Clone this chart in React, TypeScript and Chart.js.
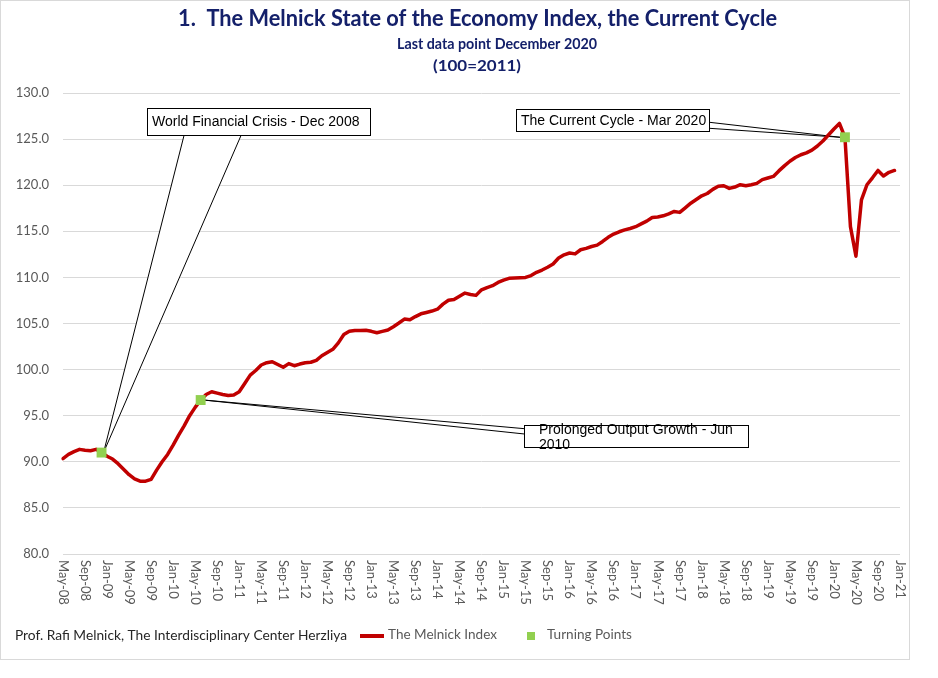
import React, { useEffect, useRef } from "react";
import { Chart, registerables } from "chart.js";

Chart.register(...registerables);

const MONTHS = ["Jan", "Feb", "Mar", "Apr", "May", "Jun", "Jul", "Aug", "Sep", "Oct", "Nov", "Dec"];

// Categories: monthly, May-08 .. Jan-21
const categories: string[] = [];
for (let y = 2008; y <= 2021; y++) {
  for (let m = 0; m < 12; m++) {
    if (y === 2008 && m < 4) continue;
    if (y === 2021 && m > 0) continue;
    categories.push(`${MONTHS[m]}-${String(y).slice(2)}`);
  }
}

const xTickLabels = [
  "May-08", "Sep-08", "Jan-09", "May-09", "Sep-09", "Jan-10", "May-10", "Sep-10",
  "Jan-11", "May-11", "Sep-11", "Jan-12", "May-12", "Sep-12", "Jan-13", "May-13",
  "Sep-13", "Jan-14", "May-14", "Sep-14", "Jan-15", "May-15", "Sep-15", "Jan-16",
  "May-16", "Sep-16", "Jan-17", "May-17", "Sep-17", "Jan-18", "May-18", "Sep-18",
  "Jan-19", "May-19", "Sep-19", "Jan-20", "May-20", "Sep-20", "Jan-21",
];

const yTicks = [80, 85, 90, 95, 100, 105, 110, 115, 120, 125, 130];

const idx2008 = [90.35, 90.8, 91.1, 91.35, 91.25, 91.2, 91.35, 91.0];
const idx2009 = [90.6, 90.3, 89.8, 89.2, 88.6, 88.15, 87.9, 87.9, 88.1, 89.1, 90.0, 90.8];
const idx2010 = [91.8, 92.9, 93.9, 95.0, 95.9, 96.7, 97.3, 97.6, 97.45, 97.3, 97.2, 97.25];
const idx2011 = [97.6, 98.5, 99.4, 99.9, 100.5, 100.75, 100.85, 100.55, 100.25, 100.65, 100.42, 100.6];
const idx2012 = [100.75, 100.8, 101.0, 101.5, 101.85, 102.2, 102.9, 103.8, 104.15, 104.25, 104.25, 104.27];
const idx2013 = [104.15, 104.0, 104.15, 104.3, 104.65, 105.05, 105.48, 105.4, 105.75, 106.05, 106.2, 106.35];
const idx2014 = [106.55, 107.1, 107.52, 107.6, 107.95, 108.3, 108.15, 108.05, 108.65, 108.9, 109.1, 109.45];
const idx2015 = [109.7, 109.9, 109.93, 109.97, 110.0, 110.2, 110.55, 110.8, 111.1, 111.45, 112.1, 112.45];
const idx2016 = [112.65, 112.55, 113.0, 113.15, 113.35, 113.5, 113.9, 114.35, 114.7, 114.95, 115.15, 115.3];
const idx2017 = [115.5, 115.8, 116.1, 116.5, 116.55, 116.68, 116.9, 117.15, 117.05, 117.55, 118.05, 118.45];
const idx2018 = [118.85, 119.1, 119.55, 119.88, 119.94, 119.65, 119.8, 120.05, 119.95, 120.05, 120.2, 120.6];
const idx2019 = [120.78, 120.95, 121.55, 122.1, 122.6, 123.0, 123.3, 123.5, 123.8, 124.25, 124.8, 125.45];
const idx2020 = [126.1, 126.7, 125.2, 115.5, 112.3, 118.4, 120.05, 120.8, 121.6, 121.0, 121.4, 121.6];

const melnickIndex: (number | null)[] = [
  ...idx2008, ...idx2009, ...idx2010, ...idx2011, ...idx2012, ...idx2013, ...idx2014,
  ...idx2015, ...idx2016, ...idx2017, ...idx2018, ...idx2019, ...idx2020, null,
];

const turningMonths = ["Dec-08", "Jun-10", "Mar-20"];
const turningValues = [91.0, 96.7, 125.2];
const turningLabels = [
  "World Financial Crisis - Dec 2008",
  "Prolonged Output Growth - Jun 2010",
  "The Current Cycle - Mar 2020",
];

const turningData: (number | null)[] = categories.map((c) => {
  const k = turningMonths.indexOf(c);
  return k >= 0 ? turningValues[k] : null;
});

const TITLE = "1.  The Melnick State of the Economy Index, the Current Cycle";
const SUBTITLE1 = "Last data point December 2020";
const SUBTITLE2 = "(100=2011)";
const SOURCE = "Prof. Rafi Melnick, The Interdisciplinary Center Herzliya";
const SERIES_NAMES = ["The Melnick Index", "Turning Points"];

const RED = "#C00000";
const GREEN = "#92D050";
const NAVY = "#14206A";
const GRAY = "#595959";
const FONT = "Lato, 'Open Sans', sans-serif";
const ANNOT_FONT = "14px 'Liberation Sans', Arial, sans-serif";

function fitText(
  ctx: CanvasRenderingContext2D, text: string, x: number, y: number,
  font: string, color: string, width: number, align: "left" | "center"
) {
  ctx.save();
  ctx.font = font;
  ctx.fillStyle = color;
  ctx.textBaseline = "middle";
  ctx.textAlign = "left";
  const w = ctx.measureText(text).width || 1;
  const s = width / w;
  const left = align === "center" ? x - width / 2 : x;
  ctx.translate(left, y);
  ctx.scale(s, 1);
  ctx.fillText(text, 0, 0);
  ctx.restore();
}

function pointPx(chart: any, k: number) {
  const i = categories.indexOf(turningMonths[k]);
  return {
    x: chart.scales.x.getPixelForValue(i),
    y: chart.scales.y.getPixelForValue(turningValues[k]),
  };
}

const overlayPlugin = {
  id: "melnickOverlay",
  beforeDatasetsDraw(chart: any) {
    const ctx: CanvasRenderingContext2D = chart.ctx;
    ctx.save();
    ctx.lineWidth = 1;
    ctx.strokeStyle = "#000";

    // Callout 1: World Financial Crisis
    {
      const p = pointPx(chart, 0);
      const ax = p.x + 2, ay = p.y;
      ctx.fillStyle = "#fff";
      ctx.beginPath();
      ctx.moveTo(184, 135.5); ctx.lineTo(ax, ay); ctx.lineTo(241, 135.5); ctx.closePath();
      ctx.fill();
      ctx.beginPath();
      ctx.moveTo(184, 135.5); ctx.lineTo(ax, ay); ctx.lineTo(241, 135.5);
      ctx.stroke();
      ctx.fillRect(147.5, 108.5, 223, 27);
      ctx.strokeRect(147.5, 108.5, 223, 27);
      ctx.fillStyle = "#000";
      ctx.font = ANNOT_FONT;
      ctx.textBaseline = "middle";
      ctx.textAlign = "left";
      ctx.fillText(turningLabels[0], 152, 122.5);
    }

    // Callout 2: Prolonged Output Growth
    {
      const p = pointPx(chart, 1);
      const ax = p.x + 3, ay = p.y;
      ctx.fillStyle = "#fff";
      ctx.beginPath();
      ctx.moveTo(524.5, 428.7); ctx.lineTo(ax, ay); ctx.lineTo(524.5, 434); ctx.closePath();
      ctx.fill();
      ctx.beginPath();
      ctx.moveTo(524.5, 428.7); ctx.lineTo(ax, ay); ctx.lineTo(524.5, 434);
      ctx.stroke();
      ctx.fillStyle = "#fff";
      ctx.fillRect(524.5, 425.5, 224, 22);
      ctx.strokeRect(524.5, 425.5, 224, 22);
      ctx.fillStyle = "#000";
      ctx.font = ANNOT_FONT;
      ctx.textBaseline = "alphabetic";
      ctx.textAlign = "left";
      const words = turningLabels[1].split(" ");
      ctx.fillText(words.slice(0, 5).join(" "), 539, 433.5);
      ctx.fillText(words.slice(5).join(" "), 539, 448.5);
    }

    // Callout 3: Current Cycle
    {
      const p = pointPx(chart, 2);
      const ax = p.x - 5, ay = p.y;
      ctx.fillStyle = "#fff";
      ctx.beginPath();
      ctx.moveTo(709.5, 122.3); ctx.lineTo(ax, ay); ctx.lineTo(709.5, 128.3); ctx.closePath();
      ctx.fill();
      ctx.beginPath();
      ctx.moveTo(709.5, 122.3); ctx.lineTo(ax, ay); ctx.lineTo(709.5, 128.3);
      ctx.stroke();
      ctx.fillStyle = "#fff";
      ctx.fillRect(516.5, 109.5, 193, 22);
      ctx.strokeRect(516.5, 109.5, 193, 22);
      ctx.fillStyle = "#000";
      ctx.font = ANNOT_FONT;
      ctx.textBaseline = "middle";
      ctx.textAlign = "left";
      ctx.fillText(turningLabels[2], 521, 121);
    }
    ctx.restore();
  },
  afterDraw(chart: any) {
    const ctx: CanvasRenderingContext2D = chart.ctx;
    const xs = chart.scales.x;

    // Outer border
    ctx.save();
    ctx.strokeStyle = "#d9d9d9";
    ctx.lineWidth = 1;
    ctx.strokeRect(0.5, 0.5, 909, 659);
    ctx.restore();

    // Titles
    fitText(ctx, TITLE, 477.5, 18.5, `bold 22px ${FONT}`, NAVY, 599, "center");
    fitText(ctx, SUBTITLE1, 497, 44, `bold 16px ${FONT}`, NAVY, 200, "center");
    fitText(ctx, SUBTITLE2, 477, 66, `bold 16px ${FONT}`, NAVY, 88, "center");

    // X tick labels, rotated to read downward
    ctx.save();
    ctx.font = `13px ${FONT}`;
    ctx.fillStyle = GRAY;
    ctx.textAlign = "left";
    ctx.textBaseline = "middle";
    categories.forEach((c, i) => {
      if (!xTickLabels.includes(c)) return;
      const x = xs.getPixelForValue(i);
      ctx.save();
      ctx.translate(x, 560);
      ctx.rotate(Math.PI / 2);
      ctx.fillText(c, 0, 0);
      ctx.restore();
    });
    ctx.restore();

    // Footer source + legend
    fitText(ctx, SOURCE, 15, 636, `13px ${FONT}`, "#262626", 332, "left");
    ctx.save();
    ctx.strokeStyle = RED;
    ctx.lineWidth = 4;
    ctx.beginPath();
    ctx.moveTo(360, 636);
    ctx.lineTo(384, 636);
    ctx.stroke();
    ctx.fillStyle = GREEN;
    ctx.fillRect(527, 632, 8, 8);
    ctx.restore();
    fitText(ctx, SERIES_NAMES[0], 388, 635, `13px ${FONT}`, GRAY, 109, "left");
    fitText(ctx, SERIES_NAMES[1], 547, 635, `13px ${FONT}`, GRAY, 85, "left");
  },
};

export default function App() {
  const canvasRef = useRef<HTMLCanvasElement | null>(null);

  useEffect(() => {
    if (!canvasRef.current) return;
    const chart = new Chart(canvasRef.current, {
      type: "line",
      data: {
        labels: categories,
        datasets: [
          {
            label: SERIES_NAMES[1],
            data: turningData,
            showLine: false,
            pointStyle: "rect",
            pointRadius: 7,
            pointHoverRadius: 7,
            pointBackgroundColor: GREEN,
            pointBorderWidth: 0,
            backgroundColor: GREEN,
            borderColor: GREEN,
          },
          {
            label: SERIES_NAMES[0],
            data: melnickIndex,
            borderColor: RED,
            backgroundColor: RED,
            borderWidth: 3.5,
            pointRadius: 0,
            tension: 0,
            borderJoinStyle: "round",
            borderCapStyle: "round",
            spanGaps: false,
          },
        ],
      },
      options: {
        responsive: false,
        animation: false,
        layout: { padding: { top: 93, left: 0, right: 38, bottom: 124 } },
        plugins: {
          legend: { display: false },
          title: { display: false },
          tooltip: { enabled: false },
        },
        scales: {
          x: {
            type: "category",
            offset: false,
            grid: { display: false, drawTicks: false },
            border: { display: false },
            ticks: { display: false },
            afterFit(s: any) { s.height = 0; },
          },
          y: {
            min: yTicks[0],
            max: yTicks[yTicks.length - 1],
            afterBuildTicks(s: any) { s.ticks = yTicks.map((v) => ({ value: v })); },
            ticks: {
              callback: (v: any) => Number(v).toFixed(1),
              font: { family: FONT, size: 13 },
              color: GRAY,
              padding: 14,
            },
            grid: { color: "#d9d9d9", drawTicks: false, lineWidth: 1 },
            border: { display: false },
            afterFit(s: any) { s.width = 63; },
          },
        },
      },
      plugins: [overlayPlugin],
    } as any);
    return () => chart.destroy();
  }, []);

  return (
    <div style={{ position: "absolute", left: 0, top: 0, width: 938, height: 678, background: "#fff" }}>
      <canvas ref={canvasRef} width={938} height={678} style={{ display: "block" }} />
    </div>
  );
}
